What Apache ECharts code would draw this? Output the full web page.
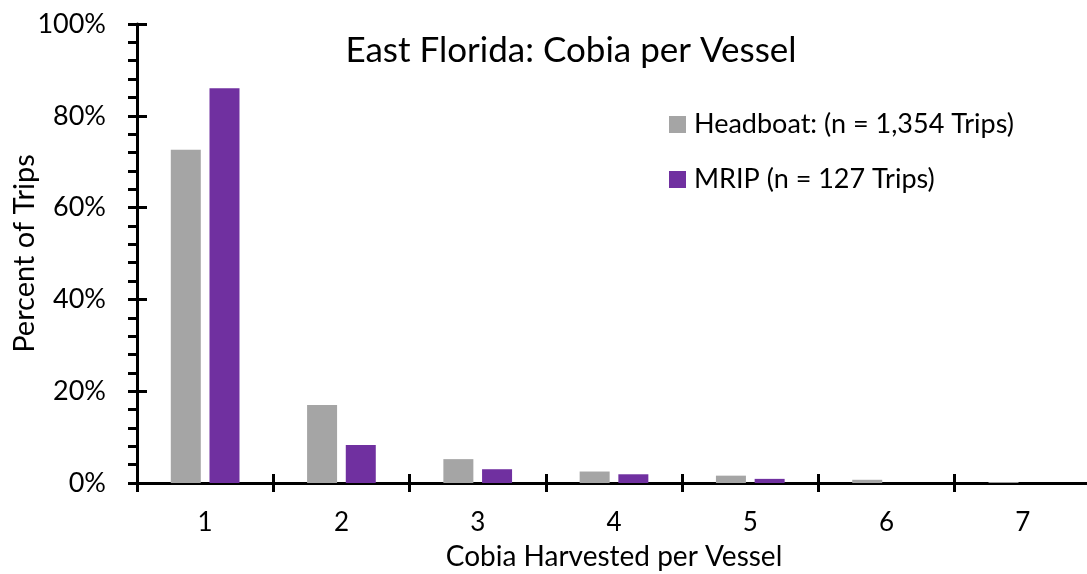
<!DOCTYPE html>
<html>
<head>
<meta charset="utf-8">
<script src="https://cdn.jsdelivr.net/npm/echarts@6/dist/echarts.min.js"></script>
<style>
  html, body { margin: 0; padding: 0; background: #fff; }
  #main { width: 1087px; height: 574px; }
</style>
</head>
<body>
<div id="main"></div>
<script>
var categories = ["1", "2", "3", "4", "5", "6", "7"];
var headboat = [72.6, 17.0, 5.2, 2.5, 1.6, 0.7, 0.2];
var mrip = [86.0, 8.3, 3.0, 1.9, 0.9, 0, 0];
var seriesNames = ["Headboat: (n = 1,354 Trips)", "MRIP (n = 127 Trips)"];

var font = "Lato, 'Open Sans', sans-serif";
var chart = echarts.init(document.getElementById("main"), null, { renderer: "canvas" });

var option = {
  animation: false,
  textStyle: { fontFamily: font, color: "#000" },
  title: {
    text: "East Florida: Cobia per Vessel",
    left: 566,
    top: 28,
    textAlign: "center",
    textStyle: { fontFamily: font, fontSize: 35, fontWeight: "normal", color: "#000" }
  },
  legend: {
    orient: "vertical",
    left: 664,
    top: 106,
    itemWidth: 17,
    itemHeight: 17,
    itemGap: 28,
    icon: "rect",
    textStyle: { fontFamily: font, fontSize: 27, color: "#000", padding: [0, 0, 0, 3] },
    data: seriesNames
  },
  grid: { left: 137, right: -4, top: 24, bottom: 91, containLabel: false, outerBoundsMode: "none" },
  xAxis: [
    {
      type: "category",
      data: categories,
      name: "Cobia Harvested per Vessel",
      nameLocation: "middle",
      nameGap: 60,
      nameMoveOverlap: false,
      nameTextStyle: { fontFamily: font, fontSize: 28, color: "#000" },
      axisLine: { lineStyle: { color: "#000", width: 3 } },
      axisTick: { show: true, length: 9, lineStyle: { color: "#000", width: 3 } },
      axisLabel: { fontFamily: font, fontSize: 26, color: "#000", margin: 27 }
    },
    {
      type: "category",
      data: categories,
      position: "bottom",
      axisLine: { show: false },
      axisTick: { show: true, inside: true, length: 9, lineStyle: { color: "#000", width: 3 } },
      axisLabel: { show: false }
    }
  ],
  yAxis: [
    {
      type: "value",
      min: 0,
      max: 100,
      interval: 20,
      name: "Percent of Trips",
      nameLocation: "middle",
      nameGap: 98,
      nameMoveOverlap: false,
      nameTextStyle: { fontFamily: font, fontSize: 29, color: "#000" },
      axisLine: { show: true, lineStyle: { color: "#000", width: 3 } },
      axisTick: { show: true, length: 9, lineStyle: { color: "#000", width: 3 } },
      minorTick: { show: true, splitNumber: 5, length: 9, lineStyle: { color: "#000", width: 3 } },
      splitLine: { show: false },
      axisLabel: { fontFamily: font, fontSize: 27, color: "#000", margin: 31, formatter: "{value}%" }
    },
    {
      type: "value",
      min: 0,
      max: 100,
      interval: 20,
      position: "left",
      axisLine: { show: false },
      axisTick: { show: true, inside: true, length: 10, lineStyle: { color: "#000", width: 3 } },
      splitLine: { show: false },
      axisLabel: { show: false }
    }
  ],
  series: [
    {
      name: seriesNames[0],
      type: "bar",
      data: headboat,
      barWidth: 30,
      barGap: "29%",
      itemStyle: { color: "#A5A5A5" }
    },
    {
      name: seriesNames[1],
      type: "bar",
      data: mrip,
      barWidth: 30,
      itemStyle: { color: "#7030A0" }
    }
  ]
};

chart.setOption(option);
</script>
</body>
</html>
